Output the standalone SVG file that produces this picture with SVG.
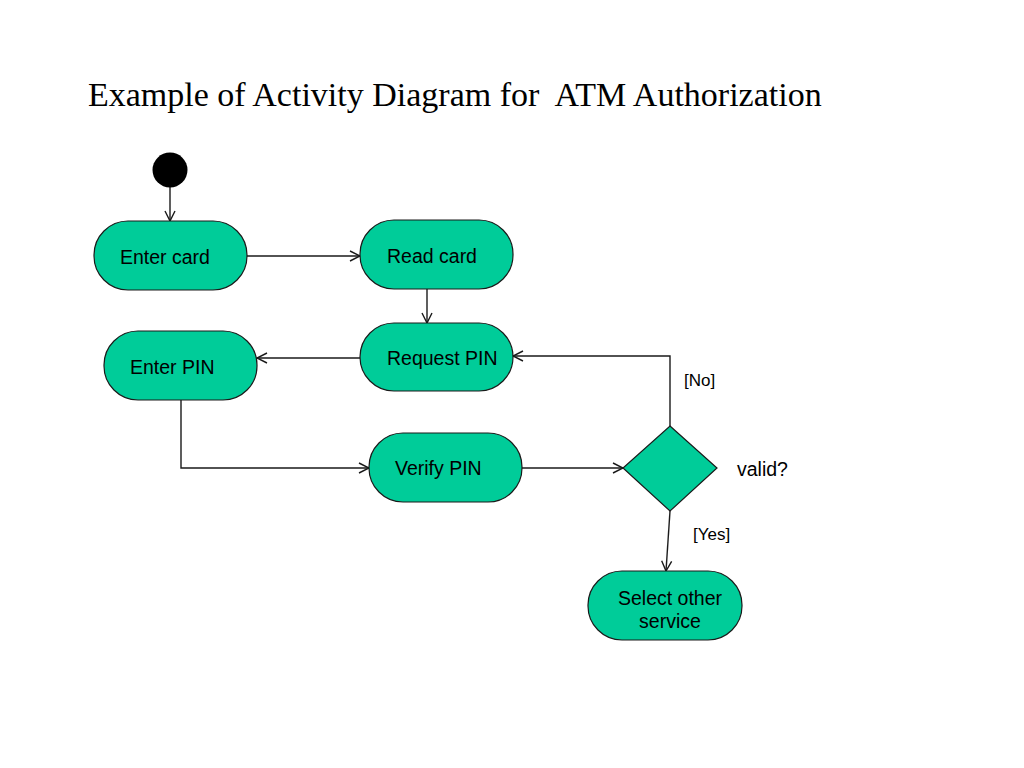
<svg xmlns="http://www.w3.org/2000/svg" width="1024" height="768" viewBox="0 0 1024 768">
<defs>
<style>
.node{fill:#00CC99;stroke:#1a1a1a;stroke-width:1.2}
.lbl{font-family:"Liberation Sans",Arial,sans-serif;font-size:19.5px;fill:#000}
.small{font-family:"Liberation Sans",Arial,sans-serif;font-size:17px;fill:#000}
.conn{fill:none;stroke:#1a1a1a;stroke-width:1.4}
</style>
<marker id="arr" viewBox="0 0 12 12" refX="11" refY="6" markerWidth="12" markerHeight="12" markerUnits="userSpaceOnUse" orient="auto">
<path d="M1,1 L11,6 L1,11" fill="none" stroke="#1a1a1a" stroke-width="1.4"/>
</marker>
</defs>
<rect width="1024" height="768" fill="#fff"/>
<text x="88" y="106" xml:space="preserve" style="white-space:pre" font-family="Liberation Serif,'Times New Roman',serif" font-size="34" fill="#000">Example of Activity Diagram for  ATM Authorization</text>
<g id="connectors">
<path class="conn" d="M170,187 L170,221" marker-end="url(#arr)"/>
<path class="conn" d="M247,256 L360,256" marker-end="url(#arr)"/>
<path class="conn" d="M427,289 L427,323" marker-end="url(#arr)"/>
<path class="conn" d="M360,358 L257,358" marker-end="url(#arr)"/>
<path class="conn" d="M181,400 L181,468 L369,468" marker-end="url(#arr)"/>
<path class="conn" d="M522,468 L623,468" marker-end="url(#arr)"/>
<path class="conn" d="M670,426 L670,356 L513,356" marker-end="url(#arr)"/>
<path class="conn" d="M670,511 L666,571" marker-end="url(#arr)"/>
</g>
<g id="start"><circle cx="170" cy="170" r="17.5" fill="#000"/></g>
<g id="enter-card"><rect class="node" x="94" y="221" width="153" height="69" rx="34" ry="34"/><text class="lbl" x="120" y="264">Enter card</text></g>
<g id="read-card"><rect class="node" x="360" y="220" width="153" height="69" rx="34" ry="34"/><text class="lbl" x="387" y="263">Read card</text></g>
<g id="request-pin"><rect class="node" x="360" y="323" width="153" height="68" rx="34" ry="34"/><text class="lbl" x="387" y="365">Request PIN</text></g>
<g id="enter-pin"><rect class="node" x="104" y="331" width="153" height="69" rx="34" ry="34"/><text class="lbl" x="130" y="374">Enter PIN</text></g>
<g id="verify-pin"><rect class="node" x="369" y="433" width="153" height="69" rx="34" ry="34"/><text class="lbl" x="395" y="475">Verify PIN</text></g>
<g id="valid"><polygon class="node" points="670,426 717,468 670,511 623,468"/><text class="lbl" x="737" y="476">valid?</text></g>
<g id="select-service"><rect class="node" x="588" y="571" width="154" height="69" rx="34" ry="34"/><text class="lbl" x="670" y="605" text-anchor="middle">Select other</text><text class="lbl" x="670" y="628" text-anchor="middle">service</text></g>
<g id="guards"><text class="small" x="684" y="386">[No]</text><text class="small" x="693" y="540">[Yes]</text></g>
</svg>
